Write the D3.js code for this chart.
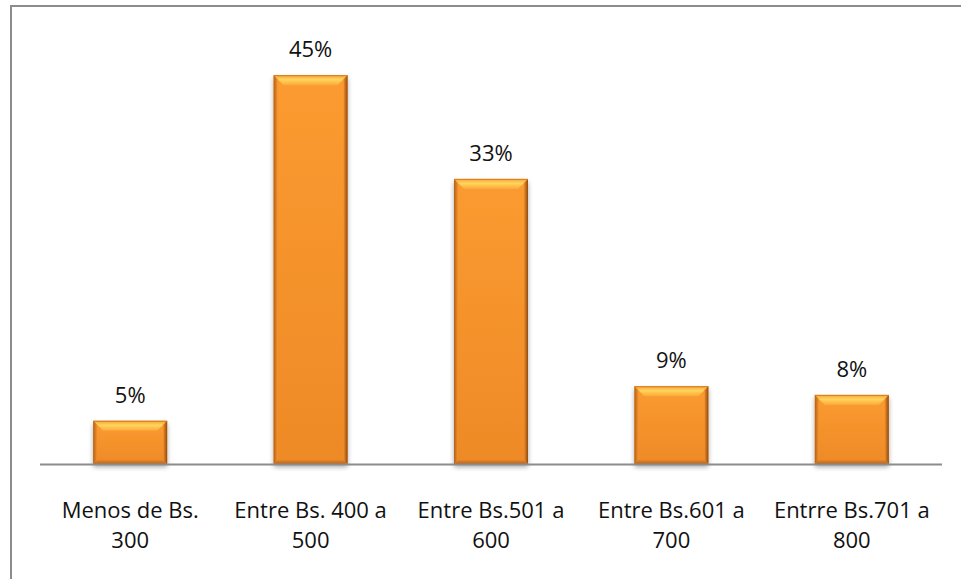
<!DOCTYPE html>
<html>
<head>
<meta charset="utf-8">
<script src="https://cdn.jsdelivr.net/npm/d3@7"></script>
<style>
  html, body { margin: 0; padding: 0; background: #fff; }
  svg { display: block; }
  text { font-family: "Open Sans", Lato, sans-serif; fill: #111; }
</style>
</head>
<body>
<svg id="chart" width="961" height="579"></svg>
<script>
// Income brackets and share of respondents (%)
const categories = [
  ["Menos de Bs.", "300"],
  ["Entre Bs. 400 a", "500"],
  ["Entre Bs.501 a", "600"],
  ["Entre Bs.601 a", "700"],
  ["Entrre Bs.701 a", "800"]
];
const values = [5, 45, 33, 9, 8];
const valueLabels = ["5%", "45%", "33%", "9%", "8%"];

const svg = d3.select("#chart");
const W = 961, H = 579;

// Chart frame
svg.append("rect")
  .attr("x", 11).attr("y", 6)
  .attr("width", W + 10).attr("height", H + 10)
  .attr("fill", "#fff")
  .attr("stroke", "#8c8c8c").attr("stroke-width", 2);

const x = d3.scaleBand()
  .domain(d3.range(values.length))
  .range([40, 942])
  .paddingInner(0.59)
  .paddingOuter(0.295);

const y = d3.scaleLinear().domain([0, 50]).range([464, 32]);

const defs = svg.append("defs");

// Body gradient: slightly lighter near the top, deeper orange at the base
const body = defs.append("linearGradient").attr("id", "body")
  .attr("x1", 0).attr("y1", 0).attr("x2", 0).attr("y2", 1);
body.append("stop").attr("offset", "0%").attr("stop-color", "#fb9b30");
body.append("stop").attr("offset", "100%").attr("stop-color", "#ee8a27");

const topBevel = defs.append("linearGradient").attr("id", "topBevel")
  .attr("x1", 0).attr("y1", 0).attr("x2", 0).attr("y2", 1);
topBevel.append("stop").attr("offset", "0%").attr("stop-color", "#f5a33a");
topBevel.append("stop").attr("offset", "45%").attr("stop-color", "#ffd55c");
topBevel.append("stop").attr("offset", "100%").attr("stop-color", "#fca83a");

const leftBevel = defs.append("linearGradient").attr("id", "leftBevel")
  .attr("x1", 0).attr("y1", 0).attr("x2", 1).attr("y2", 0);
leftBevel.append("stop").attr("offset", "0%").attr("stop-color", "#b35f14");
leftBevel.append("stop").attr("offset", "100%").attr("stop-color", "#f39330");

const rightBevel = defs.append("linearGradient").attr("id", "rightBevel")
  .attr("x1", 0).attr("y1", 0).attr("x2", 1).attr("y2", 0);
rightBevel.append("stop").attr("offset", "0%").attr("stop-color", "#f08c2a");
rightBevel.append("stop").attr("offset", "100%").attr("stop-color", "#8f4a0e");

const bottomBevel = defs.append("linearGradient").attr("id", "bottomBevel")
  .attr("x1", 0).attr("y1", 0).attr("x2", 0).attr("y2", 1);
bottomBevel.append("stop").attr("offset", "0%").attr("stop-color", "#e8842a");
bottomBevel.append("stop").attr("offset", "100%").attr("stop-color", "#b8651a");

// Soft shadow under each bar
const shadow = defs.append("filter").attr("id", "shadow")
  .attr("x", "-20%").attr("y", "-20%").attr("width", "140%").attr("height", "140%");
shadow.append("feGaussianBlur").attr("in", "SourceAlpha").attr("stdDeviation", 2.5).attr("result", "b");
shadow.append("feOffset").attr("in", "b").attr("dx", 0).attr("dy", 3).attr("result", "o");
shadow.append("feComponentTransfer").attr("in", "o").attr("result", "s")
  .append("feFuncA").attr("type", "linear").attr("slope", 0.35);
const merge = shadow.append("feMerge");
merge.append("feMergeNode").attr("in", "s");
merge.append("feMergeNode").attr("in", "SourceGraphic");

const bars = svg.append("g").selectAll("g.bar")
  .data(values)
  .join("g")
  .attr("class", "bar");

bars.each(function (v, i) {
  const g = d3.select(this);
  const x0 = x(i), w = x.bandwidth();
  const y0 = y(v), y1 = y(0), h = y1 - y0;
  const bt = Math.min(10, h / 3), bs = 4, bb = 4;

  g.append("rect")
    .attr("x", x0).attr("y", y0).attr("width", w).attr("height", h)
    .attr("fill", "url(#body)")
    .attr("filter", "url(#shadow)");
  // top bevel
  g.append("path")
    .attr("d", `M${x0},${y0}L${x0 + w},${y0}L${x0 + w - bt},${y0 + bt}L${x0 + bt},${y0 + bt}Z`)
    .attr("fill", "url(#topBevel)");
  // left bevel
  g.append("path")
    .attr("d", `M${x0},${y0}L${x0 + bs},${y0 + bs}L${x0 + bs},${y1 - bb}L${x0},${y1}Z`)
    .attr("fill", "url(#leftBevel)");
  // right bevel
  g.append("path")
    .attr("d", `M${x0 + w},${y0}L${x0 + w - bs},${y0 + bs}L${x0 + w - bs},${y1 - bb}L${x0 + w},${y1}Z`)
    .attr("fill", "url(#rightBevel)");
  // bottom bevel
  g.append("path")
    .attr("d", `M${x0},${y1}L${x0 + bs},${y1 - bb}L${x0 + w - bs},${y1 - bb}L${x0 + w},${y1}Z`)
    .attr("fill", "url(#bottomBevel)");
  // top edge line
  g.append("line")
    .attr("x1", x0).attr("x2", x0 + w).attr("y1", y0 + 0.5).attr("y2", y0 + 0.5)
    .attr("stroke", "#d97a1e").attr("stroke-width", 1);
});

// Category axis baseline
svg.append("line")
  .attr("x1", 40).attr("x2", 942)
  .attr("y1", y(0) + 0.5).attr("y2", y(0) + 0.5)
  .attr("stroke", "#8c8c8c").attr("stroke-width", 2);

// Value labels
svg.append("g").selectAll("text")
  .data(values)
  .join("text")
  .attr("x", (d, i) => x(i) + x.bandwidth() / 2)
  .attr("y", d => y(d) - 18)
  .attr("text-anchor", "middle")
  .attr("font-size", 22)
  .text((d, i) => valueLabels[i]);

// Category labels (two lines each)
const cat = svg.append("g").selectAll("text")
  .data(categories)
  .join("text")
  .attr("text-anchor", "middle")
  .attr("font-size", 22);
cat.each(function (lines, i) {
  const t = d3.select(this);
  lines.forEach((ln, k) => {
    t.append("tspan")
      .attr("x", x(i) + x.bandwidth() / 2)
      .attr("y", 518 + k * 30)
      .text(ln);
  });
});
</script>
</body>
</html>
